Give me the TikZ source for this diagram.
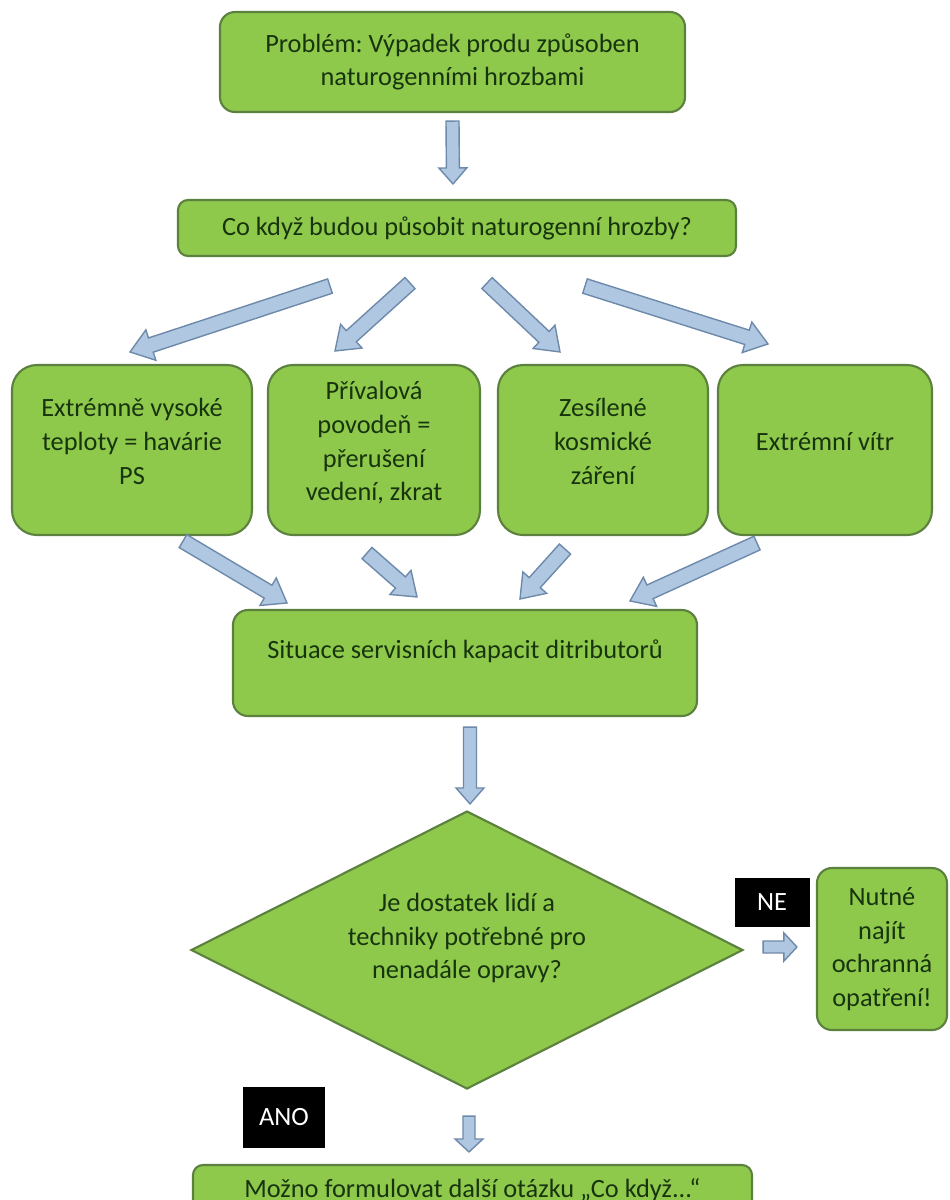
\documentclass[tikz,border=0pt]{standalone}
\usepackage{fontspec}
\setmainfont{Carlito}
\usepackage{tikz}
\usetikzlibrary{calc,shapes.geometric}
\frenchspacing

\definecolor{boxfill}{RGB}{142,201,76}
\definecolor{boxline}{RGB}{92,128,62}
\definecolor{textgreen}{RGB}{24,52,14}
\definecolor{arrowfill}{RGB}{176,199,226}
\definecolor{arrowline}{RGB}{110,138,170}

\newcommand\arrshaft{0.075cm}
\newcommand\arrhead{0.16cm}
\newcommand\arrtip{0.22cm}
\newcommand\chartfont{\fontsize{7.5pt}{9.6pt}\selectfont}

\tikzset{
  arrow size/.code args={#1/#2/#3}{\def\arrshaft{#1}\def\arrhead{#2}\def\arrtip{#3}},
  blockarrow/.style={draw=arrowline, fill=arrowfill, line width=0.4pt,
    to path={
      ($(\tikztostart)!\arrshaft!90:(\tikztotarget)$)
      -- ($(\tikztotarget)!\arrtip!(\tikztostart)!\arrshaft!90:(\tikztotarget)$)
      -- ($(\tikztotarget)!\arrtip!(\tikztostart)!\arrhead!90:(\tikztotarget)$)
      -- (\tikztotarget)
      -- ($(\tikztotarget)!\arrtip!(\tikztostart)!\arrhead!-90:(\tikztotarget)$)
      -- ($(\tikztotarget)!\arrtip!(\tikztostart)!\arrshaft!-90:(\tikztotarget)$)
      -- ($(\tikztostart)!\arrshaft!-90:(\tikztotarget)$) -- cycle}},
  uparrow/.style={blockarrow, arrow size=0.065cm/0.14cm/0.16cm},
  smallarrow/.style={blockarrow, arrow size=0.06cm/0.14cm/0.13cm},
  box/.style={draw=boxline, fill=boxfill, line width=0.6pt, rounded corners=0.15cm,
    text=textgreen, align=center, inner sep=0pt},
  threat/.style={box, rounded corners=0.25cm, minimum height=1.70cm, lift=5pt},
  tag/.style={fill=black, text=white, inner sep=0pt},
  lift/.style={text depth=#1},
}

\begin{document}
\begin{tikzpicture}[font=\chartfont]
  \useasboundingbox (0,0) rectangle (9.49,-12);
  \clip (0,0) rectangle (9.49,-12);
  \fill[white] (0,0) rectangle (9.49,-12);

  % boxes
  \node[box, minimum width=4.65cm, minimum height=1cm] (problem) at (4.525,-0.62)
    {Problém: Výpadek produ způsoben\\naturogenními hrozbami};
  \node[box, rounded corners=0.1cm, minimum width=5.58cm, minimum height=0.56cm] (whatif) at (4.57,-2.28)
    {Co když budou působit naturogenní hrozby?};
  \node[threat, minimum width=2.40cm] (heat) at (1.32,-4.5)
    {Extrémně vysoké\\teploty = havárie\\PS};
  \node[threat, minimum width=2.12cm] (flood) at (3.74,-4.5)
    {Přívalová\\povodeň =\\přerušení\\vedení, zkrat};
  \node[threat, minimum width=2.10cm] (cosmic) at (6.03,-4.5)
    {Zesílené\\kosmické\\záření};
  \node[threat, minimum width=2.14cm] (wind) at (8.25,-4.5)
    {Extrémní vítr};
  \node[box, lift=8pt, minimum width=4.64cm, minimum height=1.06cm] (service) at (4.65,-6.63)
    {Situace servisních kapacit ditributorů};
  \node[box, diamond, rounded corners=0pt, aspect=2, lift=8pt, minimum width=5.52cm, minimum height=2.78cm] (enough) at (4.67,-9.50)
    {Je dostatek lidí a\\techniky potřebné pro\\nenadále opravy?};
  \node[box, minimum width=1.30cm, minimum height=1.62cm] (measures) at (8.82,-9.49)
    {Nutné\\najít\\ochranná\\opatření!};
  \node[box, rounded corners=0.1cm, minimum width=5.59cm, minimum height=0.5cm] (next) at (4.725,-11.90)
    {Možno formulovat další otázku „Co když...“};

  % answer tags
  \node[tag, minimum width=0.75cm, minimum height=0.49cm] (no) at (7.72,-9.02) {NE};
  \node[tag, minimum width=0.82cm, minimum height=0.61cm] (yes) at (2.84,-11.17) {ANO};

  % arrows
  \draw[uparrow] ([yshift=-0.08cm]problem.south) to ([shift={(-0.04,0.15)}]whatif.north);
  \draw[blockarrow] ([shift={(-1.27,-0.29)}]whatif.south) to ([shift={(-0.02,0.12)}]heat.north);
  \draw[blockarrow] ([shift={(-0.47,-0.26)}]whatif.south) to ([shift={(-0.39,0.13)}]flood.north);
  \draw[blockarrow] ([shift={(0.30,-0.26)}]whatif.south) to ([shift={(-0.43,0.12)}]cosmic.north);
  \draw[blockarrow] ([shift={(1.28,-0.29)}]whatif.south) to ([shift={(-0.57,0.20)}]wind.north);
  \draw[blockarrow] ([shift={(0.51,-0.05)}]heat.south) to ([shift={(-1.78,0.06)}]service.north);
  \draw[blockarrow] ([shift={(-0.07,-0.17)}]flood.south) to ([shift={(-0.48,0.12)}]service.north);
  \draw[blockarrow] ([shift={(-0.38,-0.13)}]cosmic.south) to ([shift={(0.55,0.10)}]service.north);
  \draw[blockarrow] ([shift={(-0.68,-0.07)}]wind.south) to ([shift={(1.65,0.08)}]service.north);
  \draw[uparrow] ([shift={(0.05,-0.10)}]service.south) to ([shift={(0.03,0.06)}]enough.north);
  \draw[smallarrow] ([shift={(0.19,0.03)}]enough.east) to ([shift={(-0.19,0.02)}]measures.west);
  \draw[smallarrow] ([shift={(0.02,-0.26)}]enough.south) to ([shift={(-0.035,0.12)}]next.north);
\end{tikzpicture}
\end{document}
